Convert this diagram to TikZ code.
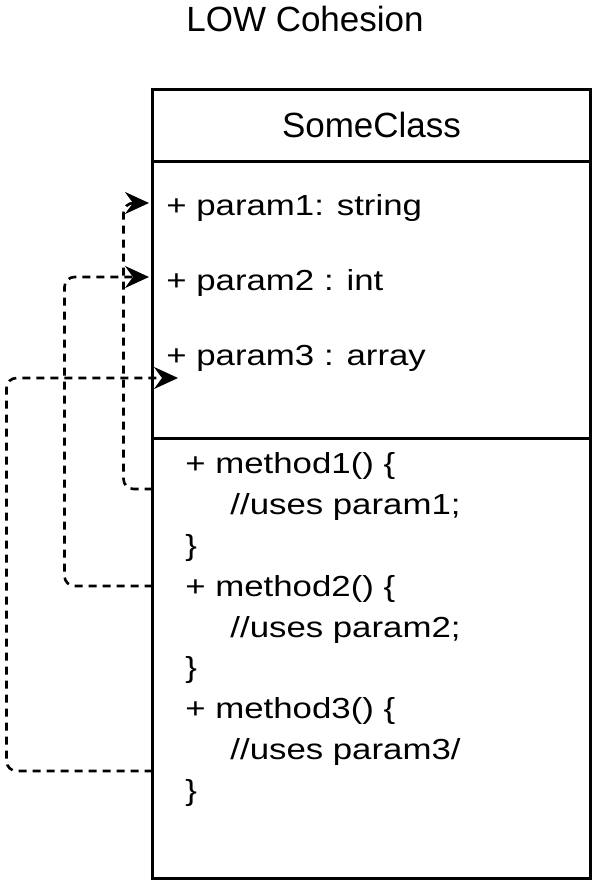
\documentclass[tikz,border=0pt]{standalone}
\usepackage{fontspec}
\setmainfont{Liberation Sans}
\newfontfamily\bodyfont[FakeStretch=1.2]{Liberation Sans}
\usetikzlibrary{positioning,arrows.meta}

\tikzset{
  part/.style={draw, line width=1.5pt, outer sep=0pt, minimum width=219pt},
  line/.style={anchor=base west, inner sep=0pt, font=\bodyfont\fontsize{14.5pt}{17pt}\selectfont},
  uses/.style={line width=1.3pt, dash pattern=on 4pt off 3pt, rounded corners=5pt,
    -{Stealth[length=12pt, width=11pt, inset=4pt]}}
}

\begin{document}
\begin{tikzpicture}[x=0.5pt, y=-0.5pt]
        \useasboundingbox (0,0) rectangle (600,888);

        % Define nodes
        \node[font=\fontsize{17.5pt}{21pt}\selectfont, anchor=base] (title) at (305,32) {LOW Cohesion};
        \node[part, minimum height=35.75pt, font=\fontsize{17.5pt}{21pt}\selectfont] (head) at (371.5,125.25) {SomeClass};
        \node[part, minimum height=138.5pt, below=0pt of head] (fields) {};
        \node[part, minimum height=220pt, below=0pt of fields] (methods) {};

        % Fields
        \node[line] (p1) at (166,215) {+ param1: string};
        \node[line] (p2) at (166,290) {+ param2 : int};
        \node[line] (p3) at (166,365) {+ param3 : array};

        % Methods
        \node[line] (m1)  at (185,473) {+ method1() \{};
        \node[line] (u1)  at (230,514) {//uses param1;};
        \node[line] (e1)  at (185,555) {\}};
        \node[line] (m2)  at (185,596) {+ method2() \{};
        \node[line] (u2)  at (230,637) {//uses param2;};
        \node[line] (e2)  at (185,677) {\}};
        \node[line] (m3)  at (185,718) {+ method3() \{};
        \node[line] (u3)  at (230,759) {//uses param3/};
        \node[line] (e3)  at (185,800) {\}};

        % Ends of the connectors
        \coordinate (s1) at (methods.west |- 0,489);
        \coordinate (s2) at (methods.west |- 0,586);
        \coordinate (s3) at (methods.west |- 0,771);
        \coordinate (t1) at (149,203);
        \coordinate (t2) at (149,277);
        \coordinate (t3) at (178,378);

        % Connect the nodes
        \draw[uses] (s1) -- ++(-29,0) |- (t1);
        \draw[uses] (s2) -- ++(-88,0) |- (t2);
        \draw[uses] (s3) -- ++(-146,0) |- (t3);

    \end{tikzpicture}
\end{document}
